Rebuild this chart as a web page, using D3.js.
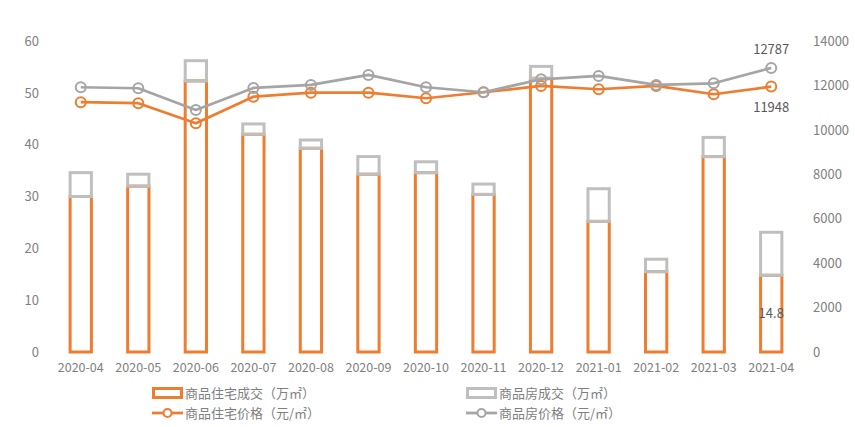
<!DOCTYPE html>
<html>
<head>
<meta charset="utf-8">
<script src="https://cdn.jsdelivr.net/npm/d3@7"></script>
<style>
  html, body { margin: 0; padding: 0; background: #fff; }
  svg { display: block; font-family: "Noto Sans CJK SC", "Noto Sans", sans-serif; }
</style>
</head>
<body>
<svg id="chart"></svg>
<script>
(function () {
  "use strict";

  // ---- Data ----
  const months = ["2020-04", "2020-05", "2020-06", "2020-07", "2020-08", "2020-09", "2020-10",
    "2020-11", "2020-12", "2021-01", "2021-02", "2021-03", "2021-04"];
  const residentialDeals = [30.0, 32.0, 52.3, 42.0, 39.3, 34.3, 34.6, 30.4, 52.8, 25.2, 15.5, 37.7, 14.8];
  const allDeals = [34.6, 34.3, 56.2, 44.0, 40.9, 37.7, 36.7, 32.4, 55.1, 31.5, 17.9, 41.4, 23.1];
  const residentialPrice = [11243, 11198, 10297, 11495, 11675, 11675, 11423, 11693, 11977, 11828, 11977, 11603, 11948];
  const allPrice = [11918, 11873, 10896, 11887, 12022, 12472, 11918, 11693, 12278, 12427, 12022, 12098, 12787];
  const leftTicks = [0, 10, 20, 30, 40, 50, 60];
  const rightTicks = [0, 2000, 4000, 6000, 8000, 10000, 12000, 14000];
  const legendLabels = ["商品住宅成交（万㎡）", "商品房成交（万㎡）", "商品住宅价格（元/㎡）", "商品房价格（元/㎡）"];

  // ---- Config ----
  const W = 855, H = 427;
  const M = { left: 52, right: 55, top: 41, bottom: 75 };
  const ORANGE = "#ED7D31";
  const GRAY_LINE = "#A5A5A5";
  const GRAY_BAR = "#BFBFBF";
  const AXIS_TEXT = "#808080";
  const LABEL_TEXT = "#595959";

  const svg = d3.select("#chart").attr("width", W).attr("height", H);

  const x = d3.scaleBand().domain(months).range([M.left, W - M.right]).paddingInner(0).paddingOuter(0);
  const yL = d3.scaleLinear().domain([0, 60]).range([H - M.bottom, M.top]);
  const yR = d3.scaleLinear().domain([0, 14000]).range([H - M.bottom, M.top]);

  const barW = x.bandwidth() * 0.37;
  const cx = (d) => x(d) + x.bandwidth() / 2;

  // ---- Axes (labels only) ----
  const leftAxis = svg.append("g")
    .attr("transform", `translate(${M.left - 13},0)`)
    .call(d3.axisLeft(yL).tickValues(leftTicks).tickSize(0).tickPadding(0));
  const rightAxis = svg.append("g")
    .attr("transform", `translate(${W - M.right + 13},0)`)
    .call(d3.axisRight(yR).tickValues(rightTicks).tickFormat(d3.format("d")).tickSize(0).tickPadding(0));
  const bottomAxis = svg.append("g")
    .attr("transform", `translate(0,${H - M.bottom + 11})`)
    .call(d3.axisBottom(x).tickSize(0).tickPadding(0));

  [leftAxis, rightAxis, bottomAxis].forEach((g) => {
    g.select(".domain").remove();
    g.selectAll("text").attr("fill", AXIS_TEXT).style("font-size", "13px")
      .style("font-family", "'Noto Sans CJK SC', 'Noto Sans', sans-serif");
  });
  bottomAxis.selectAll("text").attr("dy", "0.71em").style("font-size", "12.5px");

  // ---- Bars: residential (bottom) + remaining (stacked gray) ----
  const bars = svg.append("g");
  bars.selectAll("rect.res")
    .data(months)
    .join("rect")
    .attr("class", "res")
    .attr("x", (d) => cx(d) - barW / 2)
    .attr("width", barW)
    .attr("y", (d, i) => yL(residentialDeals[i]))
    .attr("height", (d, i) => yL(0) - yL(residentialDeals[i]))
    .attr("fill", "none")
    .attr("stroke", ORANGE)
    .attr("stroke-width", 3);

  bars.selectAll("rect.all")
    .data(months)
    .join("rect")
    .attr("class", "all")
    .attr("x", (d) => cx(d) - barW / 2)
    .attr("width", barW)
    .attr("y", (d, i) => yL(allDeals[i]))
    .attr("height", (d, i) => yL(residentialDeals[i]) - yL(allDeals[i]))
    .attr("fill", "none")
    .attr("stroke", GRAY_BAR)
    .attr("stroke-width", 3);

  // ---- Lines ----
  function drawLine(values, color) {
    const line = d3.line().x((d, i) => cx(months[i])).y((d) => yR(d));
    const g = svg.append("g");
    g.append("path")
      .datum(values)
      .attr("d", line)
      .attr("fill", "none")
      .attr("stroke", color)
      .attr("stroke-width", 2.75)
      .attr("stroke-linejoin", "round");
    g.selectAll("circle")
      .data(values)
      .join("circle")
      .attr("cx", (d, i) => cx(months[i]))
      .attr("cy", (d) => yR(d))
      .attr("r", 5)
      .attr("fill", "none")
      .attr("stroke", color)
      .attr("stroke-width", 2);
  }
  drawLine(residentialPrice, ORANGE);
  drawLine(allPrice, GRAY_LINE);

  // ---- Data labels (last month) ----
  const last = months.length - 1;
  const labels = svg.append("g")
    .attr("fill", LABEL_TEXT)
    .style("font-size", "13px")
    .attr("text-anchor", "middle");
  labels.append("text")
    .attr("x", cx(months[last]))
    .attr("y", yR(allPrice[last]) - 14)
    .text(allPrice[last]);
  labels.append("text")
    .attr("x", cx(months[last]))
    .attr("y", yR(residentialPrice[last]) + 25)
    .text(residentialPrice[last]);
  labels.append("text")
    .attr("x", cx(months[last]))
    .attr("y", yL(residentialDeals[last] / 2) + 4)
    .text(residentialDeals[last]);

  // ---- Legend ----
  const legend = svg.append("g").style("font-size", "13px").attr("fill", AXIS_TEXT);
  const legendItems = [
    { label: legendLabels[0], color: ORANGE, type: "bar", x: 152, y: 393 },
    { label: legendLabels[1], color: GRAY_BAR, type: "bar", x: 466, y: 393 },
    { label: legendLabels[2], color: ORANGE, type: "line", x: 152, y: 413 },
    { label: legendLabels[3], color: GRAY_LINE, type: "line", x: 466, y: 413 },
  ];
  legendItems.forEach((it) => {
    const g = legend.append("g").attr("transform", `translate(${it.x},${it.y})`);
    if (it.type === "bar") {
      g.append("rect").attr("x", 1.5).attr("y", -4.5).attr("width", 28).attr("height", 9)
        .attr("fill", "none").attr("stroke", it.color).attr("stroke-width", 3);
    } else {
      g.append("line").attr("x1", 0).attr("x2", 31).attr("y1", 0).attr("y2", 0)
        .attr("stroke", it.color).attr("stroke-width", 2.75);
      g.append("circle").attr("cx", 15.5).attr("cy", 0).attr("r", 4)
        .attr("fill", "#fff").attr("stroke", it.color).attr("stroke-width", 2);
    }
    g.append("text").attr("x", 33).attr("y", 0).attr("dy", "0.35em").text(it.label);
  });
})();
</script>
</body>
</html>
